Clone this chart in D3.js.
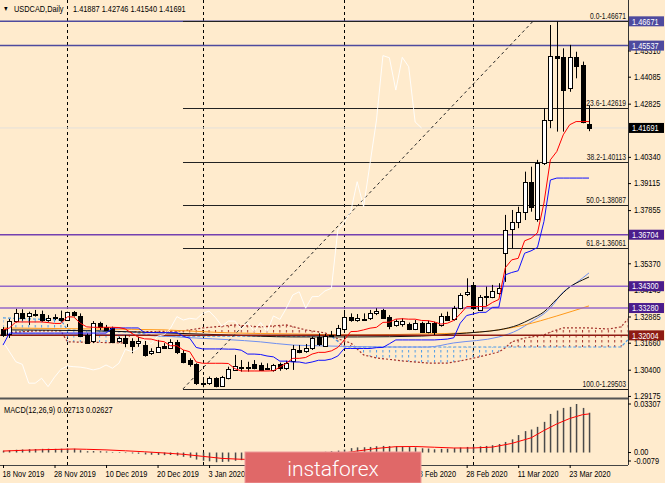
<!DOCTYPE html>
<html><head><meta charset="utf-8">
<script src="https://cdn.jsdelivr.net/npm/d3@7"></script>
<style>
body{margin:0;background:#FFEBCD;}
svg{display:block;font-family:"Liberation Sans",Arial,sans-serif;}
</style></head>
<body><svg id="c" width="665" height="483"></svg>
<script>
// ---------------- DATA ----------------
const symbolTitle = "USDCAD,Daily";
const lastOHLC = ["1.41887","1.42746","1.41540","1.41691"];

const opens = [1.3230,1.3207,1.3269,1.3303,1.3288,1.3295,1.3299,1.3269,1.3278,1.3280,
1.3272,1.3308,1.3292,1.3202,1.3171,1.3257,1.3241,1.3233,1.3171,1.3190,
1.3174,1.3166,1.3155,1.3117,1.3124,1.3151,1.3145,1.3171,1.3119,1.3085,
1.3065,1.2978,1.2977,1.3000,1.2964,1.3000,1.3039,1.3047,1.3050,1.3065,
1.3062,1.3047,1.3039,1.3065,1.3047,1.3078,1.3132,1.3127,1.3140,1.3194,
1.3151,1.3201,1.3202,1.3233,1.3288,1.3272,1.3274,1.3280,1.3306,1.3319,
1.3288,1.3249,1.3253,1.3252,1.3230,1.3260,1.3218,1.3260,1.3249,1.3292,
1.3275,1.3330,1.3394,1.3436,1.3322,1.3380,1.3381,1.3397,1.3584,1.3697,
1.3729,1.3778,1.3918,1.3744,1.4004,1.4206,1.4507,1.4499,1.4354,1.4499,
1.4463,1.41887];
const highs = [1.3239,1.3277,1.3324,1.3322,1.3311,1.3319,1.3316,1.3295,1.3299,1.3316,
1.3311,1.3314,1.3303,1.3210,1.3267,1.3264,1.3249,1.3241,1.3194,1.3202,
1.3187,1.3194,1.3174,1.3140,1.3179,1.3164,1.3182,1.3179,1.3132,1.3093,
1.3070,1.3005,1.3008,1.3005,1.3011,1.3054,1.3109,1.3085,1.3077,1.3085,
1.3073,1.3070,1.3067,1.3073,1.3082,1.3155,1.3155,1.3160,1.3194,1.3210,
1.3207,1.3221,1.3249,1.3319,1.3303,1.3300,1.3303,1.3319,1.3327,1.3324,
1.3295,1.3275,1.3280,1.3260,1.3272,1.3264,1.3269,1.3264,1.3303,1.3311,
1.3338,1.3397,1.3467,1.3444,1.3389,1.3428,1.3436,1.3444,1.3763,1.3786,
1.3801,1.3965,1.3988,1.4020,1.4261,1.4650,1.4667,1.4541,1.4557,1.4525,
1.4479,1.42746];
const lows = [1.3193,1.3188,1.3260,1.3269,1.3249,1.3288,1.3264,1.3264,1.3272,1.3264,
1.3269,1.3288,1.3194,1.3160,1.3164,1.3225,1.3222,1.3164,1.3166,1.3145,
1.3117,1.3145,1.3101,1.3109,1.3119,1.3140,1.3140,1.3113,1.3070,1.3054,
1.2969,1.2958,1.2969,1.2958,1.2961,1.2995,1.3035,1.3031,1.3031,1.3042,
1.3034,1.3039,1.3031,1.3035,1.3039,1.3039,1.3117,1.3119,1.3132,1.3151,
1.3148,1.3194,1.3197,1.3225,1.3264,1.3264,1.3269,1.3272,1.3295,1.3280,
1.3229,1.3241,1.3241,1.3225,1.3225,1.3213,1.3210,1.3202,1.3241,1.3269,
1.3269,1.3322,1.3384,1.3319,1.3319,1.3338,1.3374,1.3389,1.3450,1.3607,
1.3701,1.3739,1.3778,1.3731,1.3996,1.4168,1.4152,1.4152,1.4338,1.4401,
1.4191,1.41540];
const closes = [1.3202,1.3269,1.3306,1.3280,1.3303,1.3302,1.3269,1.3280,1.3284,1.3269,
1.3308,1.3295,1.3199,1.3166,1.3257,1.3238,1.3229,1.3168,1.3187,1.3166,
1.3152,1.3174,1.3109,1.3127,1.3146,1.3143,1.3171,1.3124,1.3077,1.3065,
1.2977,1.2977,1.3000,1.2961,1.3005,1.3042,1.3057,1.3054,1.3052,1.3047,
1.3039,1.3046,1.3062,1.3047,1.3070,1.3135,1.3124,1.3140,1.3187,1.3159,
1.3197,1.3203,1.3233,1.3288,1.3272,1.3280,1.3276,1.3303,1.3314,1.3283,
1.3244,1.3267,1.3267,1.3230,1.3260,1.3218,1.3260,1.3218,1.3291,1.3275,
1.3327,1.3389,1.3404,1.3327,1.3381,1.3382,1.3408,1.3420,1.3693,1.3729,
1.3778,1.3918,1.3801,1.4004,1.4206,1.4507,1.4497,1.4346,1.4499,1.4455,
1.4197,1.41691];

// Ichimoku Tenkan-sen (red) and Kijun-sen (blue), one value per bar
const tenkan = [1.3226,1.3235,1.3263,1.3263,1.3263,1.3263,1.3263,1.3260,1.3256,1.3256,
1.3287,1.3286,1.3257,1.3240,1.3238,1.3238,1.3238,1.3238,1.3237,1.3230,
1.3210,1.3192,1.3184,1.3183,1.3175,1.3171,1.3152,1.3152,1.3132,1.3124,
1.3076,1.3070,1.3070,1.3070,1.3070,1.3069,1.3045,1.3034,1.3034,1.3034,
1.3034,1.3034,1.3035,1.3052,1.3070,1.3093,1.3093,1.3097,1.3113,1.3121,
1.3121,1.3128,1.3144,1.3179,1.3218,1.3219,1.3226,1.3234,1.3238,1.3261,
1.3262,1.3276,1.3278,1.3276,1.3276,1.3270,1.3269,1.3263,1.3253,1.3257,
1.3270,1.3300,1.3335,1.3335,1.3335,1.3335,1.3354,1.3368,1.3516,1.3553,
1.3560,1.3642,1.3654,1.3679,1.3818,1.4020,1.4059,1.4137,1.4184,1.4199,
1.4199,1.4199];
const kijun = [1.3155,1.3211,1.3211,1.3211,1.3211,1.3211,1.3211,1.3211,1.3211,1.3211,
1.3211,1.3211,1.3211,1.3211,1.3211,1.3211,1.3211,1.3235,1.3235,1.3235,
1.3235,1.3235,1.3213,1.3213,1.3213,1.3213,1.3213,1.3213,1.3196,1.3187,
1.3144,1.3137,1.3137,1.3137,1.3137,1.3136,1.3136,1.3131,1.3113,1.3113,
1.3111,1.3104,1.3100,1.3080,1.3080,1.3076,1.3076,1.3070,1.3076,1.3084,
1.3084,1.3090,1.3104,1.3139,1.3139,1.3139,1.3139,1.3139,1.3143,1.3144,
1.3161,1.3179,1.3179,1.3179,1.3179,1.3179,1.3179,1.3179,1.3181,1.3183,
1.3189,1.3257,1.3293,1.3300,1.3308,1.3308,1.3331,1.3332,1.3483,1.3494,
1.3502,1.3584,1.3595,1.3611,1.3732,1.3926,1.3935,1.3935,1.3935,1.3935,
1.3935,1.3935];
const chikouShift = 26;

// Senkou spans (cloud), read at bar indices
const spanAIdx = [0,5,9,10,19,20,28,31,36,40,44,47,50,52,54,56,58,62,66,69,71,74,77,78,79,81,84,85,87,91,94,96,97];
const spanAVal = [1.3212,1.3221,1.3221,1.3170,1.3165,1.3216,1.3221,1.3235,1.3249,1.3240,1.3249,1.3226,1.3212,1.3184,1.3165,1.3109,1.3095,1.3081,1.3071,1.3071,1.3081,1.3100,1.3123,1.3142,1.3170,1.3188,1.3202,1.3216,1.3235,1.3235,1.3230,1.3240,1.3277];
const spanBIdx = [0,9,10,20,24,51,53,96,97];
const spanBVal = [1.3282,1.3272,1.3226,1.3216,1.3197,1.3197,1.3146,1.3146,1.3179];

// Moving averages read at bar indices
const maBlackIdx = [0,15,25,35,45,55,65,70,74,77,80,82,84,86,88,90,91];
const maBlackVal = [1.3226,1.3221,1.3212,1.3202,1.3193,1.3193,1.3197,1.3207,1.3216,1.3226,1.3249,1.3277,1.3310,1.3370,1.3426,1.3459,1.3473];
const maOrangeIdx = [0,15,25,35,45,55,65,72,77,81,86,91];
const maOrangeVal = [1.3235,1.3230,1.3226,1.3212,1.3207,1.3202,1.3207,1.3212,1.3226,1.3249,1.3291,1.3338];
const maLightIdx = [0,20,30,40,45,50,60,66,70,77,80,82,85,87,89,91];
const maLightVal = [1.3207,1.3202,1.3188,1.3170,1.3155,1.3151,1.3146,1.3146,1.3165,1.3193,1.3226,1.3263,1.3328,1.3403,1.3445,1.3492];

// Horizontal levels
const levelVals = [1.46671,1.45537,1.36704,1.34300,1.33280,1.32004];
const bidPrice = 1.41691;

// Fibonacci retracement
const fibNames = ["0.0","23.6","38.2","50.0","61.8","100.0"];
const fibVals = [1.46671,1.42619,1.40113,1.38087,1.36061,1.29503];
const fibStartIdx = 27.95, fibEndIdx = 82.3;

// Price axis ticks (those fully hidden by level tags are omitted)
const priceTicks = [1.45310,1.44085,1.42825,1.40340,1.39115,1.37855,1.35370,1.34145,1.32885,1.31660,1.30400,1.29175];

// Dates (labels fully hidden by the watermark are omitted)
const dateIdx = [0,8,16,24,32,64,72,80,88];
const dateLabels = ["18 Nov 2019","28 Nov 2019","10 Dec 2019","20 Dec 2019","3 Jan 2020","18 Feb 2020","28 Feb 2020","11 Mar 2020","23 Mar 2020"];
const monthStartIdx = [10,31,53,73];

// MACD(12,26,9)
const macdMain = [0.0012,0.0015,0.0019,0.0021,0.0023,0.0024,0.0025,0.0026,0.0025,0.0026,
0.0027,0.0026,0.0016,0.0009,0.0010,0.0009,0.0007,0.0003,0.0002,-0.0002,
-0.0006,-0.0008,-0.0013,-0.0015,-0.0016,-0.0018,-0.0017,-0.0021,-0.0029,-0.0035,
-0.0048,-0.0056,-0.0060,-0.0066,-0.0064,-0.0062,-0.0056,-0.0052,-0.0049,-0.0046,
-0.0044,-0.0042,-0.0039,-0.0037,-0.0034,-0.0024,-0.0018,-0.0012,-0.0004,0.0000,
0.0005,0.0009,0.0013,0.0020,0.0030,0.0035,0.0036,0.0038,0.0043,0.0045,
0.0044,0.0043,0.0041,0.0037,0.0035,0.0029,0.0027,0.0022,0.0025,0.0026,
0.0030,0.0034,0.0038,0.0040,0.0042,0.0045,0.0050,0.0058,0.0072,0.0090,
0.0119,0.0146,0.0157,0.0175,0.0209,0.0263,0.0286,0.0304,0.0311,0.03307,
0.0304,0.02713];
const sigIdx = [0,3,6,9,11,13,16,19,22,25,28,31,34,37,40,43,46,49,52,55,58,61,64,67,70,73,76,79,82,84,86,88,90,91];
const sigVal = [0.0010,0.0015,0.0019,0.0022,0.0024,0.0022,0.0018,0.0012,0.0005,-0.0003,-0.0012,-0.0026,-0.0040,-0.0046,-0.0047,-0.0044,-0.0036,-0.0024,-0.0010,0.0010,0.0028,0.0040,0.0041,0.0036,0.0031,0.0031,0.0037,0.0062,0.0100,0.0150,0.0195,0.0232,0.0258,0.0263];
const macdTickVals = [0.03307,0,-0.0079];
const macdTickText = ["0.03307","0.00","-0.0079"];
const macdLabel = "MACD(12,26,9) 0.02713 0.02627";

// ---------------- LAYOUT / STYLE ----------------
const PR = 628;            // right edge of plot
const PB = 398;            // bottom of price panel
const MT = 400, MB = 465;  // macd panel
const SX = 0.82;           // horizontal squeeze of text
const C = {
  bg:"#FFEBCD", tenkan:"#FF0000", kijun:"#1010FF", chikou:"#FFFFFF",
  spanA:"#A3302A", spanB:"#4A9BE8", maBlack:"#111", maOrange:"#FF9A1A", maLight:"#6F8FF0",
  lvlTop:"#4E4A9E", lvlLow:"#9467C8", lvlLowBg:"#4B1C8C", lvlRed:"#8E1B12", fib:"#222"
};
const levelStyle = [
  {stroke:C.lvlTop, bg:C.lvlTop}, {stroke:C.lvlTop, bg:C.lvlTop},
  {stroke:"#7440B0", bg:C.lvlLowBg}, {stroke:C.lvlLow, bg:C.lvlLowBg},
  {stroke:C.lvlLow, bg:C.lvlLowBg}, {stroke:C.lvlRed, bg:C.lvlRed}
];

const svg = d3.select("#c");
const x = d3.scaleLinear().domain([0,91]).range([3,589]);
const yP = d3.scaleLinear().domain([1.29078,1.47667]).range([PB,0]);
const yM = d3.scaleLinear().domain([-0.0085,0.0358]).range([MB,MT]);
const px = i => Math.round(x(i)) + 0.5;

function txt(g, tx, ty, s, anchor, fill, size, sx){
  return g.append("text").attr("transform",`translate(${tx},${ty}) scale(${sx||SX},1)`)
    .attr("text-anchor",anchor||"start").attr("fill",fill||"#000")
    .attr("font-size",size||9).text(s);
}

svg.append("rect").attr("width",665).attr("height",483).attr("fill",C.bg);
const defs = svg.append("defs");
defs.append("clipPath").attr("id","pclip").append("rect").attr("x",0).attr("y",0).attr("width",PR).attr("height",PB);
defs.append("clipPath").attr("id","mclip").append("rect").attr("x",0).attr("y",MT).attr("width",PR).attr("height",MB-MT);

// cloud clip regions
const spanA = spanAIdx.map((d,k)=>[d,spanAVal[k]]);
const spanB = spanBIdx.map((d,k)=>[d,spanBVal[k]]);
const areaBelow = d3.area().x(d=>x(d[0])).y0(PB).y1(d=>yP(d[1]));
const areaAbove = d3.area().x(d=>x(d[0])).y0(0).y1(d=>yP(d[1]));
defs.append("clipPath").attr("id","belowA").append("path").attr("d",areaBelow(spanA));
defs.append("clipPath").attr("id","aboveA").append("path").attr("d",areaAbove(spanA));
defs.append("clipPath").attr("id","belowB").append("path").attr("d",areaBelow(spanB));
defs.append("clipPath").attr("id","aboveB").append("path").attr("d",areaAbove(spanB));
function hatch(id,col){
  const p = defs.append("pattern").attr("id",id).attr("patternUnits","userSpaceOnUse")
    .attr("x",x(0)-0.5).attr("y",0).attr("width",x(1)-x(0)).attr("height",5);
  p.append("rect").attr("x",0).attr("y",0).attr("width",1).attr("height",2.5).attr("fill",col);
}
hatch("hBrown",C.spanA); hatch("hBlue",C.spanB);

// month separators (both panels)
svg.append("g").selectAll("line").data(monthStartIdx).join("line")
  .attr("x1",d=>px(d)).attr("x2",d=>px(d)).attr("y1",0).attr("y2",MB)
  .attr("stroke","#000").attr("stroke-width",1).attr("stroke-dasharray","3,3");

const P = svg.append("g").attr("clip-path","url(#pclip)");

// cloud hatch
P.append("g").attr("clip-path","url(#belowA)").append("g").attr("clip-path","url(#aboveB)")
  .append("rect").attr("width",PR).attr("height",PB).attr("fill","url(#hBrown)");
P.append("g").attr("clip-path","url(#belowB)").append("g").attr("clip-path","url(#aboveA)")
  .append("rect").attr("width",PR).attr("height",PB).attr("fill","url(#hBlue)");
const lineKV = d3.line().x(d=>x(d[0])).y(d=>yP(d[1]));
P.append("path").attr("d",lineKV(spanA)).attr("fill","none").attr("stroke",C.spanA).attr("stroke-width",1.2).attr("stroke-dasharray","2,2");
P.append("path").attr("d",lineKV(spanB)).attr("fill","none").attr("stroke",C.spanB).attr("stroke-width",1.2).attr("stroke-dasharray","3,2");

// moving averages
const lineMA = d3.line().x(d=>x(d[0])).y(d=>yP(d[1])).curve(d3.curveMonotoneX);
[[maLightIdx,maLightVal,C.maLight],[maOrangeIdx,maOrangeVal,C.maOrange],[maBlackIdx,maBlackVal,C.maBlack]].forEach(([ix,vv,col])=>{
  P.append("path").attr("d",lineMA(ix.map((d,k)=>[d,vv[k]]))).attr("fill","none").attr("stroke",col).attr("stroke-width",1);
});

// horizontal levels
levelVals.forEach((v,k)=>{
  P.append("line").attr("x1",0).attr("x2",PR).attr("y1",yP(v)).attr("y2",yP(v))
   .attr("stroke",levelStyle[k].stroke).attr("stroke-width",1.5);
});
P.append("line").attr("x1",0).attr("x2",PR).attr("y1",yP(bidPrice)).attr("y2",yP(bidPrice))
  .attr("stroke","#E4E0DA").attr("stroke-width",1);

// fibonacci lines
fibVals.forEach((v,k)=>{
  const yy = Math.round(yP(v))+0.5;
  P.append("line").attr("x1",x(fibStartIdx)).attr("x2",PR).attr("y1",yy).attr("y2",yy)
    .attr("stroke",C.fib).attr("stroke-width",1);
});
P.append("line").attr("x1",x(fibStartIdx)).attr("y1",yP(fibVals[5]))
  .attr("x2",x(fibEndIdx)).attr("y2",yP(fibVals[0]))
  .attr("stroke","#222").attr("stroke-width",1).attr("stroke-dasharray","3,3");

// candles
const idx = d3.range(closes.length);
const cg = P.append("g");
cg.selectAll("line").data(idx).join("line")
  .attr("x1",i=>px(i)).attr("x2",i=>px(i)).attr("y1",i=>yP(highs[i])).attr("y2",i=>yP(lows[i]))
  .attr("stroke","#000").attr("stroke-width",1);
cg.selectAll("rect").data(idx).join("rect")
  .attr("x",i=>Math.round(x(i))-1.5).attr("width",4)
  .attr("y",i=>Math.round(yP(Math.max(opens[i],closes[i])))+0.5)
  .attr("height",i=>Math.max(1,Math.round(Math.abs(yP(opens[i])-yP(closes[i])))))
  .attr("fill",i=>closes[i]>=opens[i]?"#FFFFFF":"#000000")
  .attr("stroke","#000").attr("stroke-width",1);

// chikou, kijun, tenkan
const lineIdx = arr => d3.line().x((d,i)=>x(i)).y(d=>yP(d))(arr);
const chik = closes.slice(chikouShift).map((c,i)=>[i,c]);
P.append("path").attr("d",lineKV(chik)).attr("fill","none").attr("stroke",C.chikou).attr("stroke-width",1).attr("opacity",0.9);
P.append("path").attr("d",lineIdx(kijun)).attr("fill","none").attr("stroke",C.kijun).attr("stroke-width",1);
P.append("path").attr("d",lineIdx(tenkan)).attr("fill","none").attr("stroke",C.tenkan).attr("stroke-width",1);

// fibonacci labels (on top)
fibVals.forEach((v,k)=>{
  const yy = Math.round(yP(v))+0.5;
  txt(P, 626, yy-3, `${fibNames[k]}-${v.toFixed(5)}`, "end", "#111", 9, 0.75);
});

// borders
svg.append("line").attr("x1",0).attr("x2",PR).attr("y1",PB+0.5).attr("y2",PB+0.5).attr("stroke","#555").attr("stroke-width",2);
svg.append("line").attr("x1",0).attr("x2",PR).attr("y1",MB+0.5).attr("y2",MB+0.5).attr("stroke","#444").attr("stroke-width",1);
svg.append("line").attr("x1",PR+0.5).attr("x2",PR+0.5).attr("y1",0).attr("y2",MB).attr("stroke","#333").attr("stroke-width",1);

// price axis
const ax = svg.append("g").attr("transform",`translate(${PR},0)`)
  .call(d3.axisRight(yP).tickValues(priceTicks).tickFormat(d3.format(".5f")).tickSize(3).tickSizeOuter(0));
ax.select(".domain").remove();
ax.selectAll("text").attr("font-size",9).attr("x",7.3).attr("transform",`scale(${SX},1)`).attr("fill","#000");
ax.selectAll("line").attr("stroke","#000");

// highlighted labels
const lab = svg.append("g");
function tag(v,bg){
  const yy = yP(v);
  lab.append("rect").attr("x",629).attr("y",yy-5).attr("width",35).attr("height",10).attr("fill",bg);
  txt(lab, 632, yy+3.3, v.toFixed(5), "start", "#FFF", 9);
}
levelVals.forEach((v,k)=>tag(v,levelStyle[k].bg));
tag(bidPrice,"#000");

// title
const tg = svg.append("g");
txt(tg, 3, 11, "\u25BC", "start", "#000", 7);
txt(tg, 14, 11.5, symbolTitle, "start", "#000", 9);
txt(tg, 73, 11.5, lastOHLC.join(" "), "start", "#000", 9);

// MACD panel
const M = svg.append("g").attr("clip-path","url(#mclip)");
M.selectAll("rect").data(idx).join("rect")
  .attr("x",i=>Math.round(x(i))-0.2).attr("width",1.5)
  .attr("y",i=>Math.min(yM(0),yM(macdMain[i])))
  .attr("height",i=>Math.max(0.5,Math.abs(yM(macdMain[i])-yM(0))))
  .attr("fill","#4a4a4a");
M.append("path").attr("d",d3.line().x(d=>x(d[0])).y(d=>yM(d[1]))(sigIdx.map((d,k)=>[d,sigVal[k]])))
  .attr("fill","none").attr("stroke","#FF0000").attr("stroke-width",1);
txt(svg, 4, 413, macdLabel, "start", "#000", 9);
const mx = svg.append("g").attr("transform",`translate(${PR},0)`)
  .call(d3.axisRight(yM).tickValues(macdTickVals).tickFormat((d,k)=>macdTickText[k]).tickSize(3).tickSizeOuter(0));
mx.select(".domain").remove();
mx.selectAll(".tick").attr("transform",d=>`translate(0,${Math.min(yM(d),461)})`);
mx.selectAll("text").attr("font-size",9).attr("x",7.3).attr("transform",`scale(${SX},1)`).attr("fill","#000");
mx.selectAll("line").attr("stroke","#000");

// date axis
const dx = svg.append("g").attr("transform",`translate(0,${MB})`)
  .call(d3.axisBottom(x).tickValues(dateIdx).tickFormat((d,k)=>dateLabels[k]).tickSize(3).tickSizeOuter(0));
dx.select(".domain").remove();
dx.selectAll("text").attr("font-size",9).attr("text-anchor","start").attr("x",-1/SX)
  .attr("transform",`scale(${SX},1)`).attr("fill","#000");
dx.selectAll("line").attr("stroke","#000");

// watermark
const wm = svg.append("g");
wm.append("rect").attr("x",245).attr("y",452).attr("width",176).attr("height",31)
  .attr("fill","#E06868").attr("stroke","#EE9A9A").attr("stroke-width",1);
wm.append("text").attr("x",333).attr("y",476).attr("text-anchor","middle")
  .attr("font-family","Roboto, 'Open Sans', sans-serif").attr("font-weight",300)
  .attr("font-size",21).attr("fill","#FFFFFF").text("instaforex");
</script>
</body></html>
